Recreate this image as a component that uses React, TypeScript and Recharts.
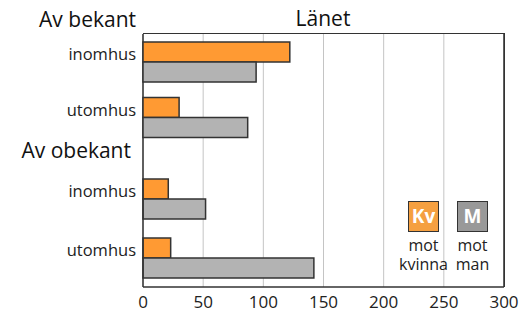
import { BarChart, Bar, XAxis, YAxis, CartesianGrid, Legend } from "recharts";

const places = ["inomhus", "utomhus"];
const bekantKv = [122, 30];
const bekantM = [94, 87];
const obekantKv = [21, 23];
const obekantM = [52, 142];
const xTicks = [0, 50, 100, 150, 200, 250, 300];

const legendKeys = ["Kv", "M"];
const legendLines = [
  ["mot", "kvinna"],
  ["mot", "man"],
];

const FONT = "'Open Sans', sans-serif";
const DARK = "#333333";
const GRID = "#C4C4C4";
const KV_FILL = "#FF9A33";
const M_FILL = "#B3B3B3";
const LEGEND_FILLS = ["#F5A041", "#999999"];

const bekantData = places.map((p, i) => ({ name: p, kv: bekantKv[i], m: bekantM[i] }));
const obekantData = places.map((p, i) => ({ name: p, kv: obekantKv[i], m: obekantM[i] }));

const frame = { stroke: DARK, strokeWidth: 1.5 };

function PlaceTick(props: any) {
  const { x, y, payload } = props;
  return (
    <text x={x} y={y} dy={-1.5} textAnchor="end" fontSize={16.5} fill="#222" fontFamily={FONT}>
      {payload.value}
    </text>
  );
}

function LegendBoxes() {
  return (
    <div style={{ display: "flex", fontFamily: FONT, color: "#222" }}>
      {legendKeys.map((k, i) => (
        <div key={k} style={{ width: 49, display: "flex", flexDirection: "column", alignItems: "center" }}>
          <div
            style={{
              width: 31,
              height: 31,
              boxSizing: "border-box",
              border: `1.5px solid ${DARK}`,
              background: LEGEND_FILLS[i],
              color: "#fff",
              fontWeight: 700,
              fontSize: 19,
              lineHeight: "28px",
              textAlign: "center",
            }}
          >
            {k}
          </div>
          <div style={{ marginTop: 4, fontSize: 16, lineHeight: "19px", textAlign: "center" }}>
            {legendLines[i][0]}
            <br />
            {legendLines[i][1]}
          </div>
        </div>
      ))}
    </div>
  );
}

function Series() {
  return [
    <Bar key="kv" dataKey="kv" fill={KV_FILL} stroke={DARK} strokeWidth={1.5} barSize={20} isAnimationActive={false} />,
    <Bar key="m" dataKey="m" fill={M_FILL} stroke={DARK} strokeWidth={1.5} barSize={20} isAnimationActive={false} />,
  ];
}

export default function App() {
  return (
    <div style={{ position: "fixed", left: 0, top: 0, width: 521, height: 312, background: "#fff", fontFamily: FONT }}>
      {/* "Av bekant" rows, drawn over the frame chart */}
      <div style={{ position: "absolute", left: 0, top: 0, zIndex: 2 }}>
        <BarChart width={521} height={145} data={bekantData} layout="vertical" barGap={0} margin={{ top: 34, right: 17, bottom: 0, left: 8 }}>
          <XAxis type="number" domain={[0, 300]} ticks={xTicks} hide />
          <YAxis type="category" dataKey="name" width={135} tickSize={0} tickMargin={7} tickLine={false} axisLine={false} tick={<PlaceTick />} />
          {Series()}
        </BarChart>
      </div>
      {/* grid, axes and "Av obekant" rows */}
      <div style={{ position: "absolute", left: 0, top: 0, zIndex: 1 }}>
        <BarChart width={521} height={312} data={obekantData} layout="vertical" barGap={0} margin={{ top: 34, right: 16, bottom: 0, left: 8 }}>
          <CartesianGrid horizontal={false} stroke={GRID} />
          <XAxis
            type="number"
            domain={[0, 300]}
            ticks={xTicks}
            height={25}
            tickSize={0}
            tickMargin={9}
            tickLine={false}
            axisLine={frame}
            tick={{ fontSize: 17, fill: "#222", fontFamily: FONT }}
          />
          <YAxis type="category" dataKey="name" width={135} padding={{ top: 135, bottom: 0 }} tickSize={0} tickMargin={7} tickLine={false} axisLine={frame} tick={<PlaceTick />} />
          <YAxis yAxisId="r" type="category" dataKey="name" orientation="right" width={1} tick={false} tickLine={false} axisLine={frame} />
          {Series()}
          <Legend layout="horizontal" verticalAlign="middle" content={<LegendBoxes />} wrapperStyle={{ left: 399, top: 201, width: 98 }} />
        </BarChart>
      </div>
      {/* top and right edges of the plot frame */}
      <div
        style={{
          position: "absolute",
          left: 143,
          top: 33,
          width: 362,
          height: 254,
          boxSizing: "border-box",
          borderTop: `1.5px solid ${DARK}`,
          borderRight: `1.5px solid ${DARK}`,
          zIndex: 3,
          pointerEvents: "none",
        }}
      />
      <svg width={521} height={312} style={{ position: "absolute", left: 0, top: 0, zIndex: 4, pointerEvents: "none" }}>
        <text x={136} y={27} textAnchor="end" fontSize={21} fill="#111" fontFamily={FONT}>Av bekant</text>
        <text x={323} y={26} textAnchor="middle" fontSize={21} fill="#111" fontFamily={FONT}>Länet</text>
        <text x={131} y={158} textAnchor="end" fontSize={21} fill="#111" fontFamily={FONT}>Av obekant</text>
      </svg>
    </div>
  );
}
